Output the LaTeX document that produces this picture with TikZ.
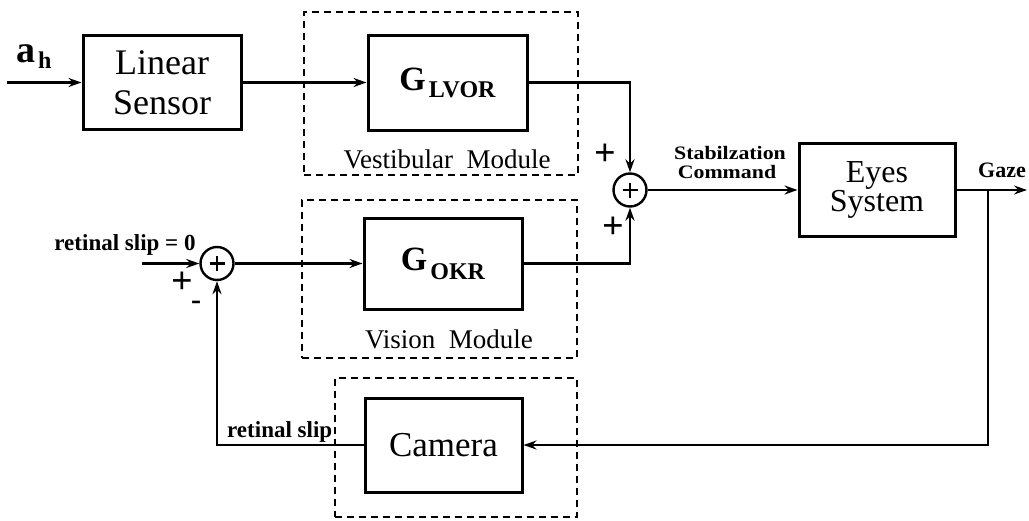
\documentclass[tikz,border=0pt]{standalone}
\usepackage{fontspec}
\setmainfont{Liberation Serif}
\newfontfamily\stabfont[FakeStretch=1.15]{Liberation Serif}
\usetikzlibrary{arrows.meta,calc}
\tikzset{
  blk/.style={draw, line width=3pt, inner sep=0pt},
  modbox/.style={draw, dash pattern=on 7pt off 5pt, line width=2.6pt, inner sep=0pt},
  sumc/.style={draw, circle, line width=2.4pt, minimum size=33pt, inner sep=0pt},
  conn/.style={line width=2.5pt, -{Stealth[length=13pt,width=9pt]}},
  lbl/.style={inner sep=0pt, anchor=base},
  sgn/.style={inner sep=0pt, font=\fontsize{38}{38}\selectfont\bfseries}
}
\begin{document}
\begin{tikzpicture}[x=1pt,y=-1pt]
\useasboundingbox (0,0) rectangle (1029,520);
% dashed modules
\node[modbox, minimum width=274pt, minimum height=163pt] (vest) at (441,93.5) {};
\node[modbox, minimum width=275pt, minimum height=158pt] (vis) at (439.5,279) {};
\node[modbox, minimum width=242pt, minimum height=139pt] (camm) at (456,447.5) {};
% blocks
\node[blk, minimum width=158pt, minimum height=94pt, align=center,
      font=\fontsize{36}{40}\selectfont] (ls) at (162,82.5) {Linear\\Sensor};
\node[blk, minimum width=159pt, minimum height=95pt,
      font=\fontsize{34}{34}\selectfont\bfseries] (glvor) at (447.5,82.5)
      {G\hspace{3pt}\raisebox{-7pt}{\fontsize{24}{24}\selectfont LVOR}};
\node[blk, minimum width=158pt, minimum height=91pt,
      font=\fontsize{34}{34}\selectfont\bfseries] (gokr) at (443,263.5)
      {G\hspace{3pt}\raisebox{-9pt}{\fontsize{24}{24}\selectfont OKR}};
\node[blk, minimum width=156pt, minimum height=93pt, align=center,
      font=\fontsize{32}{29}\selectfont] (eyes) at (877,190) {Eyes\\System};
\node[blk, minimum width=157pt, minimum height=94pt,
      font=\fontsize{35}{35}\selectfont] (cam) at (443.5,445) {Camera};
% summing junctions
\node[sumc] (s1) at (630,190) {};
\node[sumc] (s2) at (217,263.5) {};
\draw[line width=2.4pt] ($(s1)+(-7.5,0)$) -- ($(s1)+(7.5,0)$) ($(s1)+(0,-7.5)$) -- ($(s1)+(0,7.5)$);
\draw[line width=2.4pt] ($(s2)+(-7.5,0)$) -- ($(s2)+(7.5,0)$) ($(s2)+(0,-7.5)$) -- ($(s2)+(0,7.5)$);
% free ends
\coordinate (in1) at (7,82.5);
\coordinate (in2) at (142,263.5);
\coordinate (out) at (1027,190);
\coordinate (br) at (988,190);
% connectors
\draw[conn] (in1) -- (ls.west);
\draw[conn] (ls.east) -- (glvor.west);
\draw[conn] (glvor.east) -| (s1.north);
\draw[conn] (gokr.east) -| (s1.south);
\draw[conn] (s1.east) -- (eyes.west);
\draw[conn] (eyes.east) -- (out);
\draw[conn] (br) |- (cam.east);
\draw[conn] (cam.west) -| (s2.south);
\draw[conn] (in2) -- (s2.west);
\draw[conn] (s2.east) -- (gokr.west);
% labels
\node[lbl, anchor=base west, font=\fontsize{38}{38}\selectfont\bfseries] (ah) at (16,62)
  {a\hspace{3pt}\raisebox{-6pt}{\fontsize{24}{24}\selectfont h}};
\node[lbl, font=\fontsize{27}{27}\selectfont] (vestl) at (447,168) {Vestibular\ \ Module};
\node[lbl, font=\fontsize{27}{27}\selectfont] (visl) at (449,348) {Vision\ \ Module};
\node[lbl, font=\stabfont\fontsize{19}{19}\selectfont\bfseries] (stab1) at (730,159) {Stabilzation};
\node[lbl, font=\stabfont\fontsize{19}{19}\selectfont\bfseries] (stab2) at (727,178) {Command};
\node[lbl, font=\fontsize{22}{22}\selectfont\bfseries] (gaze) at (1002,177) {Gaze};
\node[lbl, font=\fontsize{23}{23}\selectfont\bfseries] (rs0) at (125,250) {retinal slip = 0};
\node[lbl, anchor=base west, font=\fontsize{23}{23}\selectfont\bfseries] (rs) at (227,437) {retinal slip};
\node[sgn] (p1) at (605,155) {+};
\node[sgn] (p2) at (613,228) {+};
\node[sgn] (p3) at (182,283) {+};
\node[sgn, font=\fontsize{30}{30}\selectfont\bfseries] (m1) at (196,305) {-};
\end{tikzpicture}
\end{document}
